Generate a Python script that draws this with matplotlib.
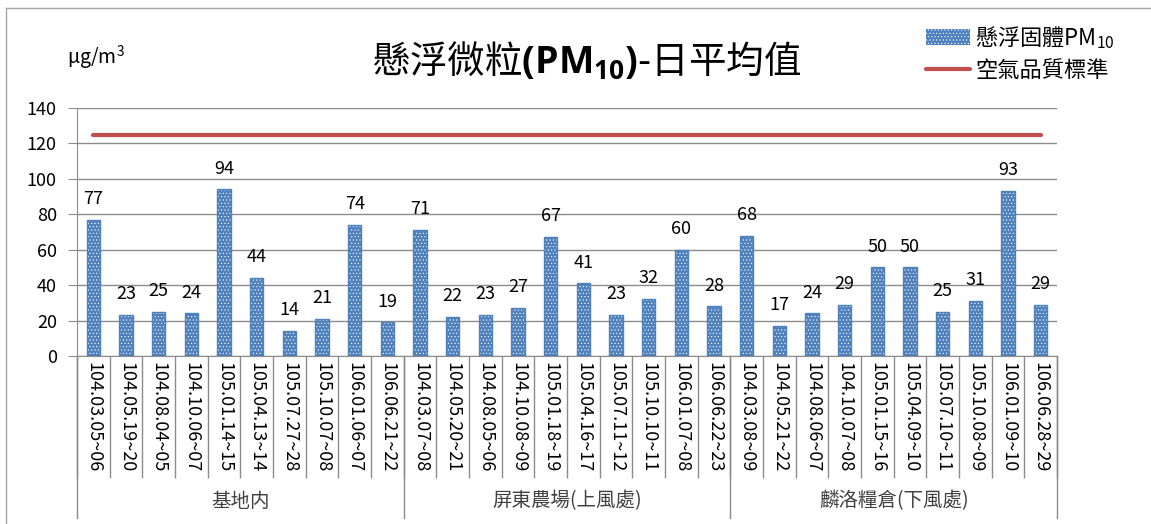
import numpy as np
import matplotlib
matplotlib.use('Agg')
import matplotlib.pyplot as plt
import matplotlib.patches as mpatches
import matplotlib.transforms as mtransforms
from matplotlib.lines import Line2D

plt.rcParams['font.family'] = ['Noto Sans CJK TC', 'DejaVu Sans']
plt.rcParams['mathtext.fontset'] = 'custom'
plt.rcParams['mathtext.rm'] = 'Noto Sans CJK TC'
plt.rcParams['mathtext.bf'] = 'Open Sans:bold'
plt.rcParams['mathtext.default'] = 'regular'
plt.rcParams['hatch.linewidth'] = 0.4

# data
groups = ['基地内', '屏東農場(上風處)', '麟洛糧倉(下風處)']
dates_base = ['104.03.05~06', '104.05.19~20', '104.08.04~05', '104.10.06~07', '105.01.14~15',
              '105.04.13~14', '105.07.27~28', '105.10.07~08', '106.01.06~07', '106.06.21~22']
dates_farm = ['104.03.07~08', '104.05.20~21', '104.08.05~06', '104.10.08~09', '105.01.18~19',
              '105.04.16~17', '105.07.11~12', '105.10.10~11', '106.01.07~08', '106.06.22~23']
dates_granary = ['104.03.08~09', '104.05.21~22', '104.08.06~07', '104.10.07~08', '105.01.15~16',
                 '105.04.09~10', '105.07.10~11', '105.10.08~09', '106.01.09~10', '106.06.28~29']
pm10_base = [77, 23, 25, 24, 94, 44, 14, 21, 74, 19]
pm10_farm = [71, 22, 23, 27, 67, 41, 23, 32, 60, 28]
pm10_granary = [68, 17, 24, 29, 50, 50, 25, 31, 93, 29]
standard = 125

labels = dates_base + dates_farm + dates_granary
values = pm10_base + pm10_farm + pm10_granary
sizes = [len(pm10_base), len(pm10_farm), len(pm10_granary)]

blue = '#4F81BD'
red = '#C0504D'
grid_c = '#8C8C8C'

fig = plt.figure(figsize=(11.51, 5.24), dpi=100)
ax = fig.add_axes([77/1151, 1 - 356/524, (1057 - 77)/1151, (356 - 108)/524])

x = np.arange(len(values))
ax.bar(x, values, width=0.4, color=blue, edgecolor='white', hatch='.....', linewidth=0, zorder=2)
ax.bar(x, values, width=0.4, fill=False, edgecolor=blue, linewidth=1, zorder=3)
ax.plot(x, [standard] * len(x), color=red, lw=3, solid_capstyle='round', zorder=4)

for xi, v in zip(x, values):
    ax.annotate(str(v), (xi, v), xytext=(0, 15), textcoords='offset points',
                ha='center', va='center', fontsize=13)

ax.set_xlim(-0.5, len(values) - 0.5)
ax.set_ylim(0, 140)
ax.set_yticks(range(0, 141, 20))
ax.yaxis.grid(True, color=grid_c, lw=1)
ax.set_axisbelow(True)
for s in ['top', 'right']:
    ax.spines[s].set_visible(False)
ax.spines['left'].set_color(grid_c)
ax.spines['bottom'].set_color(grid_c)
ax.tick_params(axis='y', length=6.5, color=grid_c, labelsize=13, pad=8)

ax.set_xticks(x)
ax.set_xticklabels(labels, rotation=270, fontsize=13, va='top', ha='center')
ax.set_xticks(np.arange(-0.5, len(values), 1), minor=True)
ax.tick_params(axis='x', which='major', length=0, pad=4)
ax.tick_params(axis='x', which='minor', length=88, color=grid_c, width=1)

# group separators and names below the tick labels
trans = mtransforms.blended_transform_factory(ax.transData, ax.transAxes)
edges = np.concatenate([[0], np.cumsum(sizes)]) - 0.5
for b in edges:
    ax.plot([b, b], [0, -0.653], transform=trans, color=grid_c, lw=1, clip_on=False)
for i, g in enumerate(groups):
    ax.text((edges[i] + edges[i + 1]) / 2, -0.585, g, transform=trans,
            ha='center', va='center', fontsize=14, color='#404040')

fig.text(587/1151, 1 - 62/524, r'懸浮微粒$\mathbf{(PM_{10})}$-日平均值',
         ha='center', va='center', fontsize=27)
fig.text(67/1151, 1 - 58/524, r'μg/m$^{3}$', ha='left', va='center', fontsize=14)

handles = [mpatches.Patch(facecolor=blue, edgecolor='white', hatch='.....', linewidth=0),
           Line2D([], [], color=red, lw=3, solid_capstyle='round')]
fig.legend(handles, [r'懸浮固體PM$_{10}$', '空氣品質標準'], loc='upper left',
           bbox_to_anchor=(926/1151, 1 - 24/524), frameon=False, fontsize=16,
           handlelength=2.0, handletextpad=0.2, labelspacing=0.35,
           borderaxespad=0, borderpad=0)

# chart border (top and left edges are visible in the crop)
fig.add_artist(Line2D([6/1151, 1], [1 - 8/524, 1 - 8/524], transform=fig.transFigure,
                      color='#A6A6A6', lw=1))
fig.add_artist(Line2D([6/1151, 6/1151], [0, 1 - 8/524], transform=fig.transFigure,
                      color='#A6A6A6', lw=1))

fig.savefig('out.png', dpi=100)
